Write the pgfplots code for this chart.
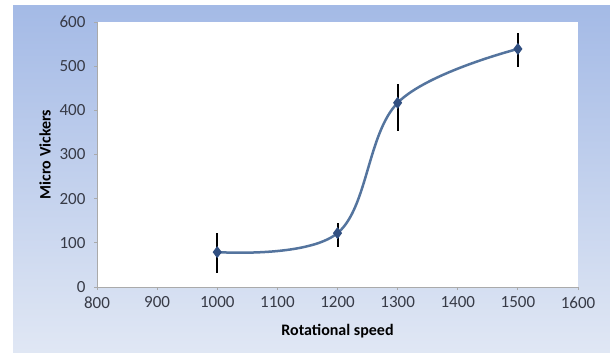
\documentclass[border=0pt]{standalone}
\usepackage{pgfplots}
\pgfplotsset{compat=1.18}
\usepackage{fontspec}
\setmainfont{Carlito}
\definecolor{bgtop}{RGB}{164,186,230}
\definecolor{bgbot}{RGB}{224,231,244}
\definecolor{linec}{RGB}{84,116,158}
\definecolor{markc}{RGB}{50,80,130}
\definecolor{tickc}{RGB}{55,58,70}
\definecolor{axc}{RGB}{170,170,170}
\begin{document}
\begin{tikzpicture}
\useasboundingbox (0pt,0pt) rectangle (610pt,356pt);
\fill[white] (0pt,0pt) rectangle (610pt,356pt);
\shade[top color=bgtop, bottom color=bgbot] (13pt,4pt) rectangle (610pt,350pt);
\begin{axis}[
  at={(97pt,69pt)}, anchor=south west,
  scale only axis, width=481pt, height=265pt,
  xmin=800, xmax=1600, ymin=0, ymax=600,
  xtick={800,900,...,1600}, ytick={0,100,...,600},
  axis background/.style={fill=white},
  axis x line*=bottom, axis y line*=left,
  axis line style={axc, line width=1pt, -},
  tick align=outside, major tick length=3pt,
  tick style={axc, line width=0.8pt},
  font=\fontsize{17}{20}\selectfont,
  ticklabel style={text=tickc, font=\fontsize{17}{20}\selectfont},
  /pgf/number format/assume math mode=true,
  /pgf/number format/1000 sep={},
  xticklabel style={yshift=-3pt},
  yticklabel style={xshift=-5pt},
  xlabel={\textbf{Rotational speed}},
  ylabel={\textbf{Micro Vickers}},
  xlabel style={at={(axis description cs:0.5,-0.166)}, anchor=center, font=\fontsize{16}{19}\selectfont},
  ylabel style={at={(axis description cs:-0.108,0.5)}, anchor=center, font=\fontsize{16}{19}\selectfont},
  clip=false,
]
\addplot[linec, line width=2.5pt, smooth, tension=0.6,
  mark=diamond*, mark size=4pt, mark options={fill=markc, draw=markc},
  error bars/.cd, y dir=both, y explicit,
  error mark=none, error bar style={black, line width=2pt}]
  table[x=x, y=y, y error plus=ep, y error minus=em] {
x y ep em
1000 79 43 47
1200 122 23 31
1300 417 43 64
1500 539 36 41
};
\end{axis}
\end{tikzpicture}
\end{document}
